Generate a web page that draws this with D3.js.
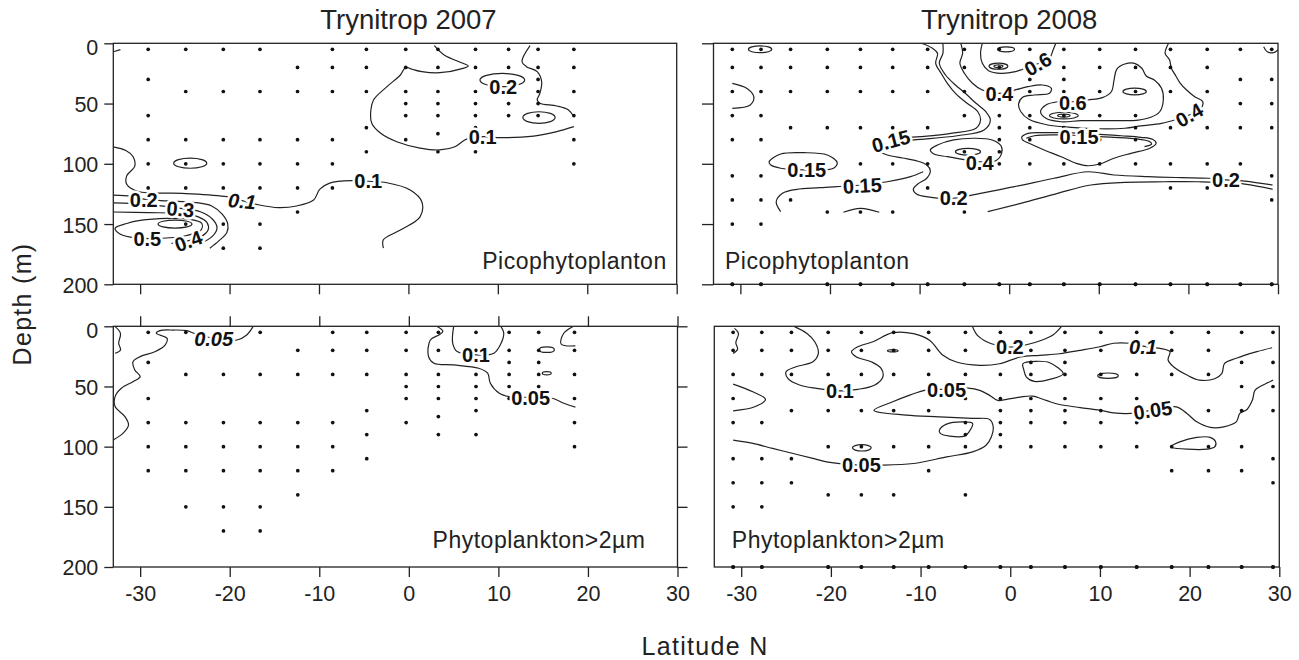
<!DOCTYPE html>
<html>
<head>
<meta charset="utf-8">
<script src="https://cdn.jsdelivr.net/npm/d3@7"></script>
<style>
  body { margin: 0; background: #fff; }
  svg { display: block; font-family: "Liberation Sans", Arial, Helvetica, sans-serif; }
</style>
</head>
<body>
<svg id="chart" width="1299" height="660"></svg>
<script>
// Axis values
var latDomain = [-33, 30],
  depthDomain = [0, 200],
  latTicks = [-30, -20, -10, 0, 10, 20, 30],
  depthTicks = [0, 50, 100, 150, 200];

var years = ["Trynitrop 2007", "Trynitrop 2008"],
  groups = ["Picophytoplanton", "Phytoplankton>2\u00b5m"];

// Station latitudes and sampled depths (m), one list per station
var stations2007 = [-29.1, -24.9, -20.7, -16.6, -12.4, -8.5, -4.7, -0.3, 3.3, 7.5, 11.2, 14.5, 18.5];
var picoSamples2007 = [
  [5, 30, 60, 80, 100, 120], [5, 40, 80, 100, 120, 150], [5, 40, 80, 100, 120, 150, 170],
  [5, 40, 80, 100, 120, 150, 170], [20, 40, 80, 100, 120, 140], [5, 20, 40, 80, 100, 120],
  [5, 20, 40, 70, 90], [5, 20, 40, 50, 60, 80], [5, 20, 40, 50, 60, 75, 90],
  [5, 20, 40, 50, 60, 70, 90], [5, 20, 40, 50, 60], [5, 20, 30, 40, 50, 60],
  [5, 20, 40, 60, 80, 100]
];
var largeSamples2007 = [
  [5, 30, 60, 80, 100, 120], [5, 40, 80, 100, 120, 150], [5, 40, 80, 100, 120, 150, 170],
  [5, 40, 80, 100, 120, 150, 170], [20, 40, 80, 100, 120, 140], [5, 20, 40, 80, 100, 120],
  [5, 20, 40, 70, 90, 110], [5, 20, 40, 50, 60, 80], [5, 20, 40, 50, 60, 75, 90],
  [5, 20, 40, 50, 60, 70, 90], [5, 20, 30, 40, 50, 60], [5, 20, 30, 40, 50],
  [5, 20, 40, 60, 80, 100]
];

var stations2008 = [-30.9, -27.7, -24.4, -20.3, -16.6, -13.0, -9.1, -5.0, -1.1, 2.3, 6.1, 10.1, 14.1, 18.0, 22.1, 25.8, 29.3];
var picoSamples2008 = [
  [5, 20, 40, 60, 80, 110, 130, 150, 200], [5, 20, 40, 60, 80, 110, 130, 150, 200],
  [5, 20, 40, 70, 110, 130], [5, 20, 40, 70, 140, 200], [5, 20, 40, 70, 100, 140, 200],
  [5, 20, 40, 70, 100, 140, 200], [5, 20, 40, 70, 100, 120, 200], [5, 20, 40, 60, 90, 140, 200],
  [5, 20, 60, 70, 80, 90, 100, 200], [5, 30, 40, 60, 70, 80, 100, 200], [5, 20, 30, 40, 60, 70, 100, 200],
  [5, 20, 40, 60, 80, 100, 200], [5, 20, 40, 60, 70, 80, 100, 200], [5, 20, 40, 70, 100, 120, 200],
  [5, 20, 40, 70, 100, 120, 200], [5, 30, 50, 70, 100, 200], [5, 30, 50, 70, 110, 130, 200]
];
var largeSamples2008 = [
  [5, 20, 40, 60, 80, 110, 130, 150, 200], [5, 20, 40, 80, 110, 130, 150, 200],
  [5, 20, 40, 70, 110, 130], [5, 20, 40, 70, 100, 140, 200], [5, 20, 40, 70, 100, 140, 200],
  [5, 20, 40, 70, 100, 140, 200], [5, 20, 40, 70, 100, 120, 200], [5, 20, 40, 60, 80, 90, 100, 140, 200],
  [5, 20, 40, 60, 70, 80, 90, 100, 200], [5, 20, 30, 40, 60, 70, 80, 100, 200], [5, 20, 30, 40, 60, 70, 80, 100, 200],
  [5, 20, 40, 60, 70, 80, 100, 200], [5, 20, 40, 60, 70, 80, 100, 200], [5, 20, 40, 100, 120, 200],
  [5, 20, 40, 70, 100, 120, 200], [5, 30, 50, 70, 100, 120, 200], [5, 30, 50, 70, 110, 130, 200]
];

var picoLines2007 = [
  [[-33, 7], [-32.2, 5.2]],
  [[-33, 86], [-31.6, 89], [-30.8, 94], [-30.6, 102], [-31.5, 110], [-31.5, 117], [-30.2, 123], [-25.3, 124.5], [-20.3, 127.3], [-18.6, 130.5], [-16.8, 134], [-14.5, 136.4], [-12.5, 135], [-10.6, 130], [-9.9, 121], [-8.8, 116], [-6.2, 114], [-4.5, 114.5], [-2.4, 115.7], [0.2, 121.7], [1.5, 131.5], [1.3, 144], [-0.9, 155], [-2.8, 163], [-2.8, 170]],
  [[-33, 126], [-31, 127], [-29.6, 129.3], [-27, 130.8], [-24, 132], [-22, 135], [-20.8, 142], [-20.2, 150], [-20.3, 157], [-21.2, 164], [-22.2, 170]],
  [[-33, 132.5], [-29.5, 133.5], [-25.5, 137], [-23.2, 140], [-21.9, 146], [-21.4, 153], [-21.9, 160], [-23.2, 166]],
  [[-33, 140], [-29, 140.5], [-25.5, 141.3], [-23.5, 144], [-22.5, 149], [-22.4, 155], [-23.3, 161], [-24.7, 164], [-26.5, 166]],
  [[2.9, 2], [4, 9.7], [6.1, 16.6], [6.7, 18.8], [6.1, 20.8], [3.5, 24.4], [1.5, 23.5], [0.4, 21.5], [-0.3, 20], [-0.9, 26.3], [-2.4, 36], [-3.9, 47], [-4.2, 55.3], [-4.1, 66.4], [-3.1, 74.7], [-1.3, 81.7], [1.3, 87], [3.5, 88.5], [5.2, 85.8], [6.5, 79.5], [8.4, 77.5], [10.3, 78.3], [14, 77], [16.6, 73.3], [18.5, 69.2]],
  [[13.6, 2], [12.7, 15.3], [13.2, 19.4], [14.4, 23.5], [14.9, 31.9], [14.7, 41.5], [14.4, 47], [14.7, 49.8], [16.6, 52], [17.9, 55.3], [18.5, 61]]
];
var picoLoops2007 = [
  [[-32.8, 153.5], [-31.5, 149.5], [-30, 147], [-27, 145.3], [-24.5, 146], [-23.1, 149.5], [-23.2, 155], [-24.8, 159.5], [-27.5, 161.8], [-30.5, 161.5], [-32.2, 158.5]]
];
var picoRings2007 = [[-26.1, 150, 1.9, 3.3], [-24.4, 99.5, 1.85, 4.2], [10.5, 30.5, 2.5, 5.5], [14.6, 61.6, 1.8, 4.8]];
var picoLabels2007 = [
  [-29.6, 129.5, "0.2", 0], [-25.5, 137.5, "0.3", 5], [-18.6, 131, "0.1", 5, 1], [-29.2, 162, "0.5", 0],
  [-24.6, 164, "0.4", -20], [-4.5, 114.5, "0.1", 0], [10.6, 36, "0.2", 0], [8.3, 77.5, "0.1", 0]
];

var largeLines2007 = [
  [[-32.8, 0.3], [-32.2, 5.8], [-32.4, 14], [-32.2, 19.7], [-32.8, 22.4]],
  [[-17.4, 0.3], [-18.1, 7.2], [-19.2, 11.4], [-21.8, 10], [-24, 5.8], [-24.8, 3.6], [-26.3, 3.1], [-27.8, 3.6], [-28.2, 5.8], [-27, 10], [-27.2, 15.5], [-28.3, 21], [-30, 25.2], [-30.8, 29.4], [-30.6, 36.3], [-30, 41.8], [-30.8, 46], [-32.1, 51.5], [-32.8, 58.4], [-32.8, 66.7], [-31.7, 75], [-31.3, 82], [-31.9, 88.8], [-33, 94.4]],
  [[5, 0.3], [4.9, 14.1], [5.4, 21], [7.5, 23.8], [9.5, 22.4], [10.3, 14.1], [10.6, 5.8], [10.3, 0.3]],
  [[3.2, 0.3], [3.8, 4], [3.4, 7], [2.4, 11.4], [2.2, 25.2], [2.8, 30.7], [5, 32.1], [7.8, 34.9], [8.8, 39], [9.1, 47.3], [10.1, 55.6], [11.2, 58.4], [13.6, 59], [16, 59.8], [17.3, 63.9], [18.6, 67.2]],
  [[18.3, 0.3], [17.3, 5.8], [17, 14.7], [18.6, 16.3]]
];
var largeLoops2007 = [];
var largeRings2007 = [[15.4, 19.4, 0.85, 2.3], [15.4, 39, 0.5, 1.3]];
var largeLabels2007 = [[-21.8, 10.5, "0.05", 0, 1], [7.5, 23.8, "0.1", 0], [13.6, 59, "0.05", 0]];

var picoLines2008 = [
  [[-9.8, 0], [-8.6, 4], [-8, 8.3], [-8.2, 16.6], [-7.6, 24.9], [-6.9, 33.2], [-6, 41.5], [-4.7, 49.8], [-3.5, 56.8], [-3.2, 63.7], [-3.7, 70.5], [-6.5, 74.7], [-9.9, 77.5], [-12.1, 78.8], [-13.2, 81.5]],
  [[-7.4, 0], [-7.4, 8.3], [-7.8, 16.6], [-7.1, 26.3], [-6, 34.6], [-4.9, 41.5], [-3.7, 49.8], [-2.6, 56.8], [-2.1, 63.7], [-2.8, 72], [-5.8, 76.7], [-9.9, 79.7], [-12.1, 81.1], [-13.2, 82.5]],
  [[-14.7, 89.1], [-13.6, 92.7], [-11.9, 95.2], [-10.4, 97.4], [-9.2, 101], [-8.8, 105.7], [-9.2, 112], [-10.2, 116.8], [-10.7, 121.2], [-10.3, 125.3], [-8.9, 127.6], [-7.3, 128.9], [-6.2, 128.6], [-3.2, 124.5], [0.6, 119], [5, 112], [8.8, 106.6], [11.7, 109.3], [15.5, 110.7], [19.2, 111.5], [22.2, 112], [24.2, 113.4], [26.3, 114.3], [29.4, 117.6]],
  [[-2.4, 139.7], [1.3, 132.8], [5.4, 124.5], [9.1, 117.6], [12.9, 115.4], [17.3, 114.9], [21.1, 114.9], [26.3, 116.8], [29.4, 121.2]],
  [[-25.5, 139.7], [-26, 131.5], [-25.3, 124.5], [-23.7, 121.2], [-21.1, 119.8], [-16.6, 117.6], [-13.6, 114.9], [-11, 110.7], [-9.6, 106.6]],
  [[-18.5, 140.2], [-16.6, 137], [-14.5, 140.2]],
  [[-30.9, 33.2], [-29.3, 37.3], [-28.5, 44.3], [-28.9, 51.2], [-30.9, 54]],
  [[-5.4, 0], [-5.2, 8.3], [-5.5, 16.6], [-5, 24.9], [-4.1, 33.2], [-3, 38.8], [-1.1, 41.5], [0.6, 38.8], [2.1, 36], [3.7, 34.6], [4.7, 37.3], [4.5, 41.5], [2.8, 42.9], [1.5, 44.8], [1.05, 50.4], [1.3, 56.8], [2.2, 63.1], [4.3, 67.8], [6.9, 69.7], [9.9, 70.9], [12.9, 70.5], [14.7, 68.6], [17, 66.4], [18.8, 62.8], [20.1, 59.5], [21.4, 54], [21.6, 48.5], [20.7, 44.3], [19.8, 38.8], [19.1, 33.2], [18.6, 27.1], [18.1, 20.7], [17.9, 13.9], [17.4, 8.3], [17.6, 2.8], [17.8, 0]],
  [[-3, 0], [-3.2, 8.3], [-3, 16.6], [-2.3, 22.7], [-0.9, 24.9], [0.7, 23.5], [1.5, 21.5], [3.2, 17], [4.5, 12.4], [4.9, 5.6], [5.2, 0]],
  [[1.9, 78.8], [2.8, 76.7], [5.8, 76.1], [10.1, 77.5], [14, 79.2], [15.7, 81.7], [15.9, 83.6], [15.1, 85.8]],
  [[28.4, 2.8], [28.8, 7], [29.5, 7.8], [30, 5.6]]
];
var picoLoops2008 = [
  [[-26.8, 98.3], [-25.5, 91.9], [-22.9, 90.8], [-20.3, 92.7], [-19.2, 99.1], [-19.6, 103.7], [-22.7, 105.1], [-25.5, 103.7], [-26.6, 101]],
  [[5.4, 48.5], [4.1, 51.2], [3.5, 56.8], [4.1, 62.2], [5.8, 65.1], [8, 64.2], [10.3, 64.2], [12.5, 64.2], [14.4, 63.7], [15.8, 61.4], [16.8, 56.8], [17.2, 47], [17, 37.3], [16.2, 30.5], [15.3, 27.1], [14.8, 20.7], [14, 16.6], [12.9, 17.2], [12, 21.6], [11.7, 30.5], [11.4, 40.2], [10.4, 45.1], [8.8, 47], [7.1, 48.5]],
  [[1.4, 78], [2.1, 74.7], [4.3, 74.2], [5.8, 74.2], [10.1, 75.5], [12.5, 76.7], [14.7, 78], [16, 79.7], [16.4, 83], [15.7, 87.1], [13.6, 91.3], [11.7, 95.4], [10.1, 100.2], [8.8, 101.6], [7.5, 99.6], [5.8, 94.1], [3.9, 88.5], [2.4, 83.6], [1.5, 80.2]],
  [[-8.8, 88.5], [-8, 84.4], [-6.2, 80.2], [-3.9, 78.8], [-1.9, 80.2], [-0.9, 85.2], [-0.85, 91.3], [-1.5, 97.4], [-3.2, 98.3], [-4.8, 96.8], [-6.9, 94.1], [-8.4, 91.9]]
];
var picoRings2008 = [[-27.8, 5, 1.3, 2.8], [-0.35, 5, 0.95, 2.1], [-1.2, 19, 1.05, 2.5], [-1.2, 19, 0.5, 1.1], [6.1, 60, 1.6, 2.8], [6.1, 60, 0.7, 1.2], [14, 40, 1.3, 2.8], [-4.6, 90, 1.4, 2.8]];
var picoLabels2008 = [
  [-22.6, 105, "0.15", 0], [-16.4, 118, "0.15", -3], [-13.2, 81, "0.15", -15], [-6.2, 128.6, "0.2", 0],
  [-3.3, 99.3, "0.4", 0], [-1.1, 41.5, "0.4", 0], [3.2, 17, "0.6", -30], [7.1, 49.5, "0.6", 0],
  [7.8, 77.3, "0.15", 0], [20.1, 59.5, "0.4", -30], [24.2, 113.4, "0.2", 0]
];

var largeLines2008 = [
  [[-30.75, 1.7], [-30.3, 5.8], [-30.6, 13.6], [-30.4, 19.1], [-30.9, 22.5]],
  [[-30.9, 48], [-28.7, 54.4], [-27.3, 60.7], [-28.5, 66.9], [-30.9, 70.2]],
  [[-24.05, 0.3], [-22.7, 5.8], [-21.8, 12.8], [-21.4, 22.5], [-22, 29.5], [-23.9, 33.6], [-25, 37.8], [-24.8, 43.3], [-23.5, 48.8], [-21.6, 51.6], [-19, 53.6], [-17, 52.4], [-15.1, 48.8], [-14.2, 41.9], [-14.4, 34.9], [-15.5, 29.5], [-17.2, 25.3], [-17.7, 21.1], [-17, 17], [-15.3, 12.8], [-13.1, 5.3], [-10.8, 6.1], [-9, 11.6], [-7.5, 24.1], [-6, 29.7], [-3.4, 32.4], [-1.2, 31.1], [1.1, 25.5], [3.3, 24.1], [5.5, 22.8], [7.8, 20], [10, 17], [11.5, 14.1], [13.3, 14.1], [14.8, 16.5], [16.7, 18.3], [17.8, 21.1], [17.6, 28], [18.2, 33.6], [19.7, 40.5], [21.1, 44.7], [22.8, 43.6], [23.6, 39.1], [23.9, 30.8], [25.2, 26.6], [27.5, 21.1], [29.2, 17.8]],
  [[-4.2, 0.3], [-3.6, 8], [-2.1, 14.5], [-0.05, 17.2], [1.8, 15.3], [3.5, 11.6], [4.8, 7], [5.7, 0.3]],
  [[-30.9, 94.6], [-28.7, 97.3], [-26.5, 101.5], [-24.2, 105.7], [-22, 109.8], [-20.5, 112.6], [-16.6, 115.4], [-14.6, 115.4], [-10.8, 114], [-7.1, 108.5], [-4.2, 104.3], [-2.7, 98.8], [-2.1, 91.8], [-1.9, 83.5], [-2.3, 77.4], [-4.2, 76.5], [-7.9, 75.2], [-11.6, 73.8], [-15.2, 69.8], [-13.1, 62.7], [-11.2, 57.2], [-9.4, 53], [-7.1, 52.4], [-4.7, 51.3], [-3.4, 53.2], [-2.3, 57.4], [-1.4, 61.6], [-0.4, 60.7], [1.1, 58.8], [2.5, 58], [4, 61.6], [5.5, 65], [7.8, 67.5], [10, 69.7], [11.5, 71.9], [13.5, 72.4], [15.9, 69.6], [18.5, 66.9], [19.7, 72.4], [20.8, 79.4], [22.3, 84], [23.8, 83.5], [25.2, 79.4], [25.6, 72.4], [26.4, 69.1], [27, 61.3], [27.3, 53], [28.2, 48.8], [29.3, 44.7]]
];
var largeLoops2008 = [
  [[1.4, 31.1], [2.9, 29.1], [4.4, 30.3], [5.9, 39.4], [4.4, 44.1], [2.7, 45.8], [1.8, 42.2], [1.5, 35.8]],
  [[-7.9, 86.3], [-7.1, 81.3], [-5.3, 79.4], [-4.2, 80.7], [-4.6, 87.7], [-5.1, 91.3], [-6.75, 91.3], [-7.8, 89]],
  [[17.9, 100.2], [18.9, 96], [20.8, 92.3], [22.3, 92.3], [22.9, 96], [22.8, 100.2], [21.9, 102.1], [19.7, 102.1], [18, 100.7]]
];
var largeRings2008 = [[-16.55, 101, 1.05, 2.6], [10.9, 41, 1.15, 2.2], [-13.1, 20.3, 0.6, 1]];
var largeLabels2008 = [
  [-19, 54, "0.1", 0], [-7.1, 52.4, "0.05", 0], [-16.6, 115.4, "0.05", 0],
  [-0.05, 17.2, "0.2", 0], [14.8, 16.8, "0.1", 0, 1], [15.9, 69.6, "0.05", -8]
];

var ink = "#222",
  svg = d3.select("#chart");

svg.append("rect").attr("width", 1299).attr("height", 660).attr("fill", "#fff");

// Panel layout: left column 2007, right column 2008
var panels = [
  {title: years[0], name: groups[0], stations: stations2007, samples: picoSamples2007,
   lines: picoLines2007, loops: picoLoops2007, rings: picoRings2007, labels: picoLabels2007,
   x0: 113.3, x1: 676.7, y0: 43.3, y1: 284.3, left: 9, leftText: true, bottom: true,
   anchor: "end", nx: -10, ny: -15},
  {title: years[1], name: groups[0], stations: stations2008, samples: picoSamples2008,
   lines: picoLines2008, loops: picoLoops2008, rings: picoRings2008, labels: picoLabels2008,
   x0: 713.5, x1: 1278, y0: 43.3, y1: 284.3, left: 11.5, bottom: true,
   anchor: "start", nx: 11.5, ny: -15},
  {name: groups[1], stations: stations2007, samples: largeSamples2007,
   lines: largeLines2007, loops: largeLoops2007, rings: largeRings2007, labels: largeLabels2007,
   x0: 113.3, x1: 677.5, y0: 326.3, y1: 567, left: 9, leftText: true, bottom: true, bottomText: true,
   top: true, right: true, anchor: "end", nx: -32, ny: -18.7},
  {name: groups[1], stations: stations2008, samples: largeSamples2008,
   lines: largeLines2008, loops: largeLoops2008, rings: largeRings2008, labels: largeLabels2008,
   x0: 714.3, x1: 1279.3, y0: 326.3, y1: 567, bottom: true, bottomText: true,
   anchor: "start", nx: 17.5, ny: -18.7}
];

// Plain hyphen for negative latitudes, as in the original
function plain(d) { return String(d); }

function styleAxis(g, withText) {
  g.attr("font-family", null).attr("font-size", null);
  g.select(".domain").remove();
  g.selectAll(".tick line").attr("stroke", ink).attr("stroke-width", 1.3);
  if (!withText) g.selectAll(".tick text").remove();
  else g.selectAll(".tick text").attr("fill", ink).style("font-size", "21.5px");
}

panels.forEach(function(p, i) {
  var x = d3.scaleLinear().domain(latDomain).range([p.x0, p.x1]),
    y = d3.scaleLinear().domain(depthDomain).range([p.y0, p.y1]);

  var g = svg.append("g").attr("class", "panel");

  svg.append("clipPath").attr("id", "clip" + i)
    .append("rect")
      .attr("x", p.x0).attr("y", p.y0)
      .attr("width", p.x1 - p.x0).attr("height", p.y1 - p.y0);

  var open = d3.line()
    .x(function(d) { return x(d[0]); })
    .y(function(d) { return y(d[1]); })
    .curve(d3.curveCatmullRom.alpha(0.5));
  var closed = d3.line()
    .x(function(d) { return x(d[0]); })
    .y(function(d) { return y(d[1]); })
    .curve(d3.curveCatmullRomClosed.alpha(0.5));

  var iso = g.append("g")
    .attr("clip-path", "url(#clip" + i + ")")
    .attr("fill", "none")
    .attr("stroke", ink)
    .attr("stroke-width", 1.2);

  iso.selectAll("path.open").data(p.lines).enter().append("path")
    .attr("class", "open")
    .attr("d", open);

  iso.selectAll("path.loop").data(p.loops).enter().append("path")
    .attr("class", "loop")
    .attr("d", closed);

  iso.selectAll("ellipse").data(p.rings).enter().append("ellipse")
    .attr("cx", function(d) { return x(d[0]); })
    .attr("cy", function(d) { return y(d[1]); })
    .attr("rx", function(d) { return x(d[0] + d[2]) - x(d[0]); })
    .attr("ry", function(d) { return y(d[1] + d[3]) - y(d[1]); });

  // Sample positions
  var pts = [];
  p.stations.forEach(function(lat, j) {
    p.samples[j].forEach(function(depth) { pts.push([lat, depth]); });
  });
  g.append("g").selectAll("circle").data(pts).enter().append("circle")
    .attr("cx", function(d) { return x(d[0]); })
    .attr("cy", function(d) { return y(d[1]); })
    .attr("r", 1.85)
    .attr("fill", "#111");

  // Isoline labels with a white halo cutting the line
  g.append("g").selectAll("text").data(p.labels).enter().append("text")
    .attr("transform", function(d) {
      return "translate(" + x(d[0]) + "," + y(d[1]) + ") rotate(" + d[3] + ")";
    })
    .attr("text-anchor", "middle")
    .attr("dy", "0.36em")
    .style("font-size", "20px")
    .style("font-weight", "bold")
    .style("font-style", function(d) { return d[4] ? "italic" : "normal"; })
    .attr("fill", "#111")
    .attr("stroke", "#fff")
    .attr("stroke-width", 5)
    .attr("stroke-linejoin", "round")
    .style("paint-order", "stroke")
    .text(function(d) { return d[2]; });

  // Frame
  g.append("rect")
    .attr("x", p.x0).attr("y", p.y0)
    .attr("width", p.x1 - p.x0).attr("height", p.y1 - p.y0)
    .attr("fill", "none")
    .attr("stroke", ink)
    .attr("stroke-width", 1.3);

  if (p.left) {
    var ga = g.append("g").attr("transform", "translate(" + p.x0 + ",0)")
      .call(d3.axisLeft(y).tickValues(depthTicks).tickFormat(plain).tickSize(p.left).tickPadding(6));
    styleAxis(ga, p.leftText);
    ga.selectAll(".tick text").attr("dy", function(d) { return d === 0 ? "0.52em" : "0.37em"; });
  }
  if (p.right) {
    styleAxis(g.append("g").attr("transform", "translate(" + p.x1 + ",0)")
      .call(d3.axisRight(y).tickValues(depthTicks).tickSize(10)), false);
  }
  if (p.top) {
    styleAxis(g.append("g").attr("transform", "translate(0," + p.y0 + ")")
      .call(d3.axisTop(x).tickValues(latTicks).tickSize(10)), false);
  }
  if (p.bottom) {
    styleAxis(g.append("g").attr("transform", "translate(0," + p.y1 + ")")
      .call(d3.axisBottom(x).tickValues(latTicks).tickFormat(plain).tickSize(10).tickPadding(9)), p.bottomText);
  }

  // Samples lying on the bottom edge sit above the frame line
  g.append("g").selectAll("circle").data(pts.filter(function(d) { return d[1] >= 200; }))
    .enter().append("circle")
      .attr("cx", function(d) { return x(d[0]); })
      .attr("cy", function(d) { return y(d[1]); })
      .attr("r", 2)
      .attr("fill", "#111");

  g.append("text")
    .attr("x", (p.anchor === "end" ? p.x1 : p.x0) + p.nx)
    .attr("y", p.y1 + p.ny)
    .attr("text-anchor", p.anchor)
    .style("font-size", "23px")
    .style("letter-spacing", "0.5px")
    .attr("fill", ink)
    .text(p.name);

  if (p.title) {
    g.append("text")
      .attr("x", x(0))
      .attr("y", 29.3)
      .attr("text-anchor", "middle")
      .style("font-size", "27.5px")
      .attr("fill", ink)
      .text(p.title);
  }
});

svg.append("text")
  .attr("transform", "translate(31,304) rotate(-90)")
  .attr("text-anchor", "middle")
  .style("font-size", "25px")
  .style("letter-spacing", "1.3px")
  .attr("fill", ink)
  .text("Depth (m)");

svg.append("text")
  .attr("x", 705)
  .attr("y", 655)
  .attr("text-anchor", "middle")
  .style("font-size", "25px")
  .style("letter-spacing", "1.3px")
  .attr("fill", ink)
  .text("Latitude N");
</script>
</body>
</html>
